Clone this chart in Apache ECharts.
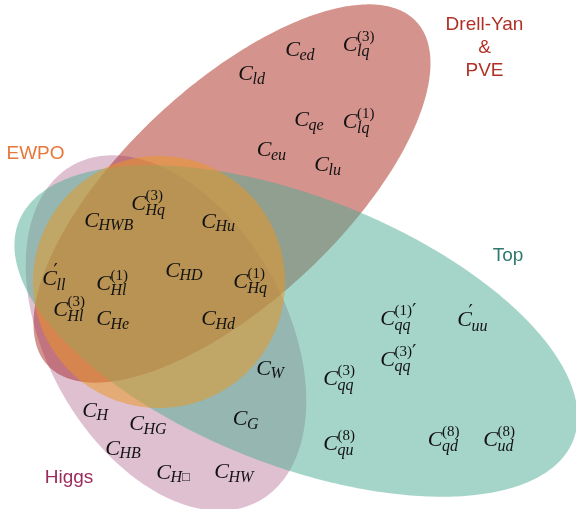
<!DOCTYPE html>
<html>
<head>
<meta charset="utf-8">
<script src="https://cdn.jsdelivr.net/npm/echarts@6/dist/echarts.min.js"></script>
<style>
  html, body { margin: 0; padding: 0; background: #ffffff; }
  #chart { width: 576px; height: 509px; }
</style>
</head>
<body>
<div id="chart"></div>
<script>
// Observable sets, each drawn as an ellipse: centre, semi-axes and tilt (degrees, clockwise)
const setNames   = ['Drell-Yan & PVE', 'Higgs', 'Top', 'EWPO'];
const setCenterX = [232, 166, 296, 159];
const setCenterY = [193.5, 333, 331, 282];
const setRadiusA = [252, 192, 298, 126];
const setRadiusB = [108, 120, 134, 126];
const setTilt    = [-43, 61, 21.5, 0];

// Set titles (multi-line blocks, anchored at their centre)
const titleLines = [['Drell-Yan', '&', 'PVE'], ['Higgs'], ['Top'], ['EWPO']];
const titleX     = [484.5, 69, 508, 35.5];
const titleY     = [48, 478, 255.5, 154];

// Wilson coefficients C_sub^sup and where they sit
const coefSub = ['ed', 'lq', 'ld', 'qe', 'lq', 'eu', 'lu',
                 'Hq', 'HWB', 'Hu', 'll', 'Hl', 'HD', 'Hq', 'Hl', 'He', 'Hd',
                 'W', 'G', 'H', 'HG', 'HB', 'H□', 'HW',
                 'qq', 'uu', 'qq', 'qq', 'qu', 'qd', 'ud'];
const coefSup = ['', '(3)', '', '', '(1)', '', '',
                 '(3)', '', '', '′', '(1)', '', '(1)', '(3)', '', '',
                 '', '', '', '', '', '', '',
                 '(1)′', '′', '(3)′', '(3)', '(8)', '(8)', '(8)'];
const coefX = [292.5, 350, 245.5, 301.5, 350, 264, 321.5,
               138.5, 91.5, 208.5, 49.5, 103.5, 172.5, 240.5, 60.5, 103.5, 208.5,
               263.5, 240, 89.5, 136.5, 112.5, 163.5, 221.5,
               387.5, 464.5, 387.5, 330.5, 330.5, 435, 490.5];
const coefY = [50.5, 45.5, 74.5, 120.5, 122.5, 150.5, 165.5,
               204.5, 221, 222, 279.5, 284.5, 271, 282.5, 310, 319.5, 319.5,
               369, 419.5, 411, 424.5, 449, 473, 472.5,
               319.5, 320, 360.5, 379.5, 444.5, 440, 440];

// Styling
const setFill   = ['rgba(176,58,46,0.55)', 'rgba(148,45,98,0.30)', 'rgba(75,171,145,0.50)', 'rgba(235,150,30,0.50)'];
const titleColor = ['#b03026', '#9a2c5c', '#2f7a70', '#e8773a'];
const mathFont = '"Liberation Serif", "DejaVu Serif", serif';
const sansFont = '"Liberation Sans", Arial, Helvetica, sans-serif';
const ink = '#111111';

const chart = echarts.init(document.getElementById('chart'), null, { renderer: 'canvas' });

const setData = setCenterX.map((x, i) => [x, setCenterY[i], setRadiusA[i], setRadiusB[i], setTilt[i], i]);
const titleData = titleX.map((x, i) => [x, titleY[i], i]);
const coefData = coefX.map((x, i) => [x, coefY[i], i]);

// superscript as rich text: digits/parentheses upright, primes drawn as a bigger stroke
function supRich(sup) {
  return sup.split('′').map((part, k, arr) => {
    let s = part ? '{n|' + part + '}' : '';
    if (k < arr.length - 1) s += '{p|′}';
    return s;
  }).join('');
}

chart.setOption({
  animation: false,
  backgroundColor: '#ffffff',
  grid: { left: 0, right: 0, top: 0, bottom: 0 },
  xAxis: { type: 'value', min: 0, max: 576, show: false },
  yAxis: { type: 'value', min: 0, max: 509, inverse: true, show: false },
  series: [
    {
      name: 'sets',
      type: 'custom',
      coordinateSystem: 'cartesian2d',
      clip: false,
      silent: true,
      data: setData,
      renderItem: function (params, api) {
        const cx = api.value(0), cy = api.value(1);
        const a = api.value(2), b = api.value(3);
        const t = api.value(4) * Math.PI / 180;
        const idx = api.value(5);
        const pts = [];
        const n = 360;
        for (let k = 0; k < n; k++) {
          const s = 2 * Math.PI * k / n;
          const x = cx + a * Math.cos(t) * Math.cos(s) - b * Math.sin(t) * Math.sin(s);
          const y = cy + a * Math.sin(t) * Math.cos(s) + b * Math.cos(t) * Math.sin(s);
          pts.push(api.coord([x, y]));
        }
        return {
          type: 'polygon',
          shape: { points: pts },
          style: { fill: setFill[idx], stroke: null }
        };
      }
    },
    {
      name: 'titles',
      type: 'custom',
      coordinateSystem: 'cartesian2d',
      clip: false,
      silent: true,
      data: titleData,
      renderItem: function (params, api) {
        const idx = api.value(2);
        const p = api.coord([api.value(0), api.value(1)]);
        return {
          type: 'text',
          x: p[0],
          y: p[1],
          style: {
            text: titleLines[idx].join('\n'),
            font: '19px ' + sansFont,
            fill: titleColor[idx],
            align: 'center',
            verticalAlign: 'middle',
            lineHeight: 23
          }
        };
      }
    },
    {
      name: 'coefficients',
      type: 'custom',
      coordinateSystem: 'cartesian2d',
      clip: false,
      silent: true,
      data: coefData,
      renderItem: function (params, api) {
        const idx = api.value(2);
        const p = api.coord([api.value(0), api.value(1)]);
        const sub = coefSub[idx];
        const sup = coefSup[idx];
        const children = [{
          type: 'text', x: p[0], y: p[1],
          style: { text: 'C', font: 'italic 22px ' + mathFont, fill: ink, align: 'center', verticalAlign: 'middle' }
        }];
        if (sub) {
          const box = sub.indexOf('□');
          const subText = box >= 0
            ? '{i|' + sub.slice(0, box) + '}{r|□}'
            : '{i|' + sub + '}';
          children.push({
            type: 'text', x: p[0] + 7, y: p[1] + (sup ? 6.5 : 5),
            style: {
              text: subText, align: 'left', verticalAlign: 'middle', fill: ink,
              rich: {
                i: { font: 'italic 16px ' + mathFont, fill: ink },
                r: { font: '13px ' + mathFont, fill: ink }
              }
            }
          });
        }
        if (sup) {
          const onlyPrime = sup === '′';
          children.push({
            type: 'text', x: p[0] + (onlyPrime ? 4 : 7), y: p[1] - 8,
            style: {
              text: supRich(sup), align: 'left', verticalAlign: 'middle', fill: ink,
              rich: {
                n: { font: '15px ' + mathFont, fill: ink },
                p: { font: '19px "DejaVu Sans", ' + mathFont, fill: ink, padding: [2, 0, 0, 0] }
              }
            }
          });
        }
        return { type: 'group', children: children };
      }
    }
  ]
});
</script>
</body>
</html>
